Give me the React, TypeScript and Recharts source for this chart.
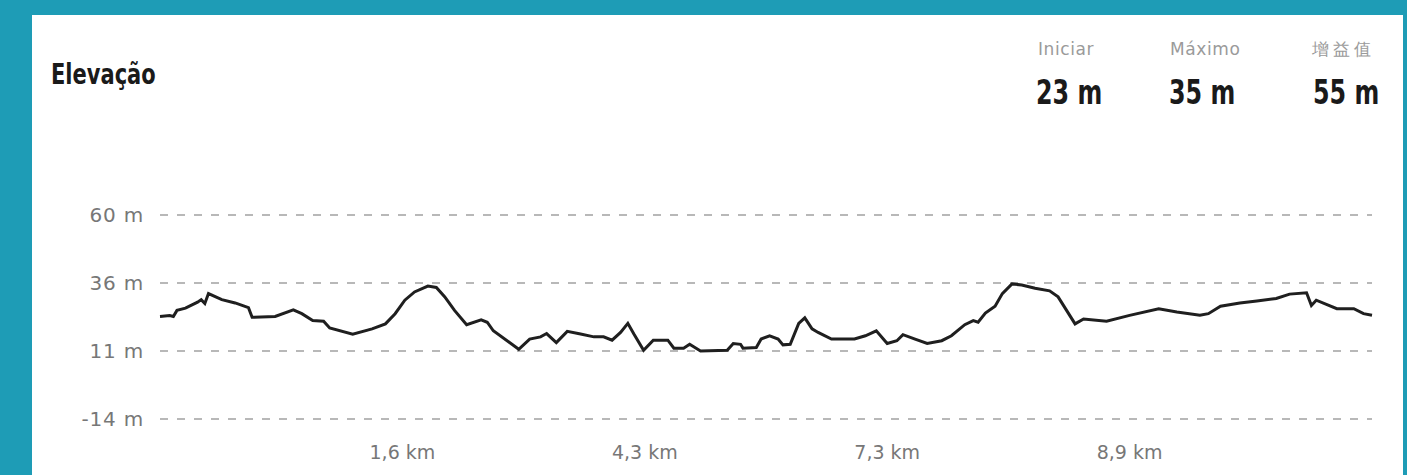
import React from "react";
import { LineChart, Line, XAxis, YAxis, CartesianGrid } from "recharts";

// Progress along the track (%)
const progress = [
  0, 0.8, 1.1, 1.4, 2.1, 3.1, 3.4, 3.7, 4.0, 5.1, 6.2, 7.3, 7.6, 9.5, 11.0, 11.7, 12.6, 13.5, 14.0, 15.9,
  17.5, 18.6, 19.4, 20.2, 21.0, 22.1, 22.8, 23.5, 24.3, 25.3, 26.5, 27.0, 27.5, 29.6, 30.5, 31.4, 31.9, 32.7,
  33.6, 34.7, 35.8, 36.6, 37.3, 38.0, 38.6, 39.1, 39.9, 40.7, 41.9, 42.4, 43.2, 43.7, 44.6, 46.8, 47.3, 47.9,
  48.1, 49.2, 49.6, 50.3, 51.0, 51.4, 52.0, 52.7, 53.2, 53.8, 54.3, 55.4, 57.3, 58.2, 59.1, 60.0, 60.8, 61.3,
  62.3, 63.3, 64.5, 65.3, 66.4, 67.1, 67.5, 68.1, 68.9, 69.5, 70.3, 71.1, 72.2, 73.4, 74.1, 75.5, 76.2, 78.1,
  80.0, 82.4, 83.9, 85.8, 86.5, 87.5, 89.1, 90.5, 92.1, 93.2, 94.6, 95.0, 95.4, 97.1, 98.5, 99.3, 100,
];

// Elevation (m)
const elevation = [
  23.2, 23.5, 23.2, 25.4, 26.2, 28.4, 29.3, 27.9, 31.5, 29.3, 28.1, 26.4, 22.9, 23.2, 25.6, 24.2, 21.7, 21.5,
  19.0, 16.8, 18.7, 20.5, 24.2, 29.1, 32.1, 34.2, 33.7, 30.3, 25.4, 20.2, 22.0, 21.1, 18.0, 11.3, 15.0, 15.8,
  17.0, 13.7, 17.8, 16.8, 15.8, 15.8, 14.6, 17.4, 20.7, 16.8, 10.9, 14.6, 14.6, 11.7, 11.7, 13.1, 10.7, 10.9,
  13.4, 13.1, 11.7, 11.9, 15.0, 16.2, 15.0, 12.9, 13.1, 20.7, 22.7, 18.7, 17.4, 15.0, 15.0, 16.2, 18.0, 13.4,
  14.4, 16.6, 15.0, 13.4, 14.4, 16.2, 20.2, 21.7, 21.1, 24.4, 26.9, 31.5, 35.0, 34.6, 33.4, 32.5, 30.3, 20.5,
  22.3, 21.5, 23.6, 26.0, 24.8, 23.6, 24.2, 26.9, 28.1, 28.8, 29.7, 31.3, 31.8, 27.2, 29.1, 26.0, 26.0, 24.2,
  23.6,
];

const xTicks = [20, 40, 60, 80];
const xTickLabels = ["1,6 km", "4,3 km", "7,3 km", "8,9 km"];

const yDomain = [-14, 60];
const yTicks = [-14, 10.67, 35.33, 60];
const yTickLabels = ["-14 m", "11 m", "36 m", "60 m"];

const statLabels = ["Iniciar", "Máximo", "增益值"];
const statValues = ["23 m", "35 m", "55 m"];

const title = "Elevação";

const data = progress.map((p, i) => ({ p, e: elevation[i] }));

const boldFont = "'DejaVu Sans', sans-serif";
const tickFont = "'DejaVu Sans', sans-serif";

const statLeft = [[1038, 1036], [1170, 1169], [1312, 1313]];

export default function App() {
  return (
    <div style={{ position: "absolute", left: 0, top: 0, width: 1407, height: 475, background: "#1e9cb6", overflow: "hidden" }}>
      <div style={{ position: "absolute", left: 32, top: 15, width: 1371, height: 470, background: "#ffffff" }} />
      <div style={{ position: "absolute", left: 51, top: 61, fontFamily: boldFont, fontWeight: 700, fontSize: 28, lineHeight: "28px", color: "#1a1a1a", transform: "scaleX(0.75)", transformOrigin: "left top", whiteSpace: "nowrap" }}>
        {title}
      </div>
      {statLabels.map((l, i) => (
        <React.Fragment key={l}>
          <div style={{ position: "absolute", left: statLeft[i][0], top: 41, fontFamily: tickFont, fontSize: 17, lineHeight: "17px", letterSpacing: i === 2 ? 4 : 0.6, color: "#9a9a9a", whiteSpace: "nowrap" }}>
            {l}
          </div>
          <div style={{ position: "absolute", left: statLeft[i][1], top: 75, fontFamily: boldFont, fontWeight: 700, fontSize: 34, lineHeight: "34px", color: "#1a1a1a", transform: "scaleX(0.7)", transformOrigin: "left top", whiteSpace: "nowrap" }}>
            {statValues[i]}
          </div>
        </React.Fragment>
      ))}
      <div style={{ position: "absolute", left: 0, top: 0 }}>
        <LineChart width={1407} height={475} data={data} margin={{ top: 215, right: 35, bottom: 0, left: 0 }}>
          <CartesianGrid horizontal vertical={false} stroke="#b8b8b8" strokeWidth={2} strokeDasharray="8 9" />
          <XAxis
            dataKey="p"
            type="number"
            domain={[0, 100]}
            ticks={xTicks}
            tickFormatter={(v: number) => xTickLabels[xTicks.indexOf(v)] ?? ""}
            axisLine={false}
            tickLine={false}
            tickSize={0}
            tickMargin={27}
            height={56}
            interval={0}
            tick={{ fill: "#777777", fontSize: 19, fontFamily: tickFont }}
          />
          <YAxis
            type="number"
            domain={yDomain}
            ticks={yTicks}
            tickFormatter={(v: number) => yTickLabels[yTicks.indexOf(v)] ?? ""}
            axisLine={false}
            tickLine={false}
            tickSize={0}
            tickMargin={16}
            width={160}
            interval={0}
            allowDataOverflow
            tick={{ fill: "#777777", fontSize: 20, fontFamily: tickFont, letterSpacing: 0.8 }}
          />
          <Line type="linear" dataKey="e" stroke="#1f1f1f" strokeWidth={3} dot={false} isAnimationActive={false} />
        </LineChart>
      </div>
    </div>
  );
}
